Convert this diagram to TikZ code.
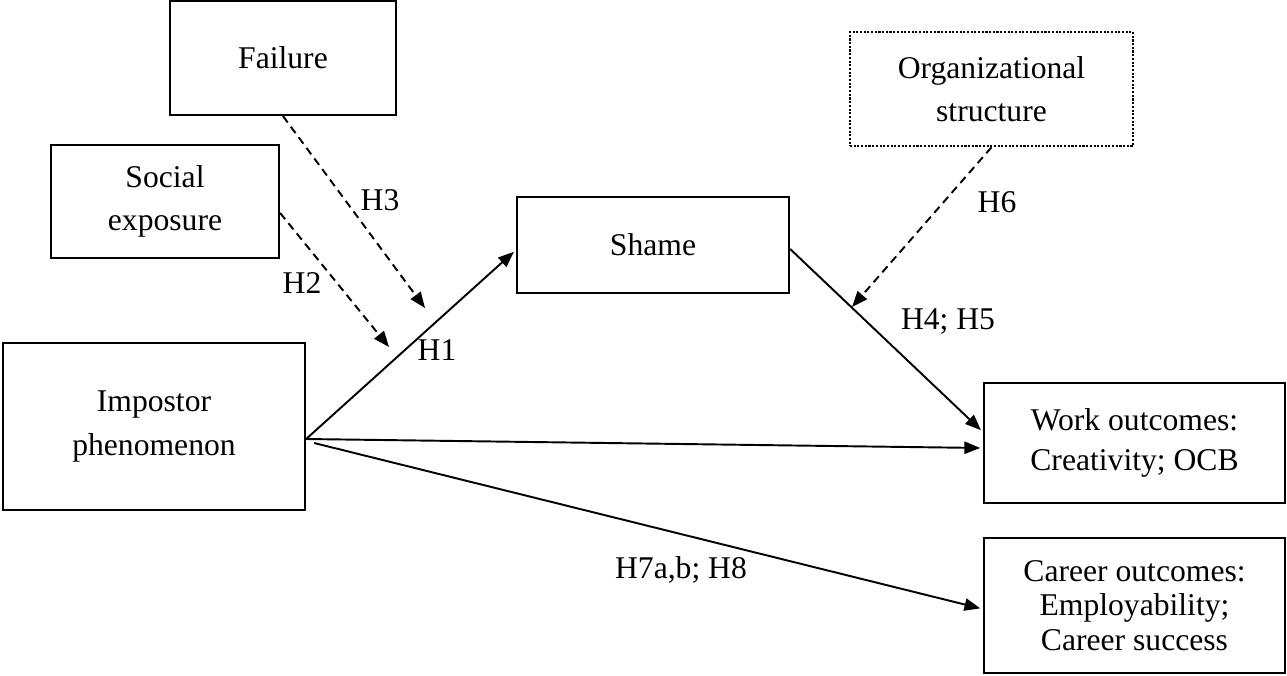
\documentclass[tikz,border=0pt]{standalone}
\usepackage{fontspec}
\setmainfont{Liberation Serif}
\usetikzlibrary{arrows.meta}

\tikzstyle{box}=[rectangle,draw,line width=1.3pt,align=center,inner sep=0pt,font=\fontsize{18}{24.5}\selectfont]
\tikzstyle{modbox}=[box,line width=1.4pt,dash pattern=on 1.2pt off 0.9pt]
\tikzstyle{hyp}=[inner sep=0pt,font=\fontsize{18}{24}\selectfont]
\tikzstyle{link} = [draw,line width=1.1pt,shorten >=1.5pt]
\tikzstyle{modlink} = [draw,line width=1.1pt,dash pattern=on 4.5pt off 3pt]

\begin{document}
\begin{tikzpicture}[->, >={Triangle[length=9pt,width=7pt]}]
			\useasboundingbox (0,0) rectangle (25.74,-13.5);
			\node [box,minimum width=4.52cm,minimum height=2.28cm] (failure) at (5.66,-1.16) {Failure};
			\node [box,minimum width=4.56cm,minimum height=2.26cm] (social)  at (3.30,-4.03) {Social\\exposure};
			\node [box,minimum width=6.04cm,minimum height=3.34cm] (imp)     at (3.08,-8.53) {Impostor\\phenomenon};
			\node [box,minimum width=5.44cm,minimum height=1.92cm] (shame)   at (13.06,-4.90) {Shame};
			\node [modbox,minimum width=5.66cm,minimum height=2.28cm] (org) at (19.83,-1.78) {Organizational\\structure};
			\node [box,minimum width=6.02cm,minimum height=2.40cm,font=\fontsize{18}{22.5}\selectfont] (work) at (22.69,-8.86) {Work outcomes:\\Creativity; OCB};
			\node [box,minimum width=6.02cm,minimum height=2.70cm,font=\fontsize{18}{19.5}\selectfont] (career) at (22.69,-12.11) {Career outcomes:\\Employability;\\Career success};

			\coordinate (m2) at (7.78,-6.94);
			\coordinate (m3) at (8.50,-6.16);
			\coordinate (m6) at (17.04,-6.14);

			\node [hyp] (h1) at (8.74,-7.00) {H1};
			\node [hyp] (h2) at (6.04,-5.66) {H2};
			\node [hyp] (h3) at (7.60,-4.00) {H3};
			\node [hyp] (h45) at (18.96,-6.44) {H4; H5};
			\node [hyp] (h6) at (19.94,-4.04) {H6};
			\node [hyp] (h78) at (13.62,-11.40) {H7a,b; H8};

			\draw [link] ([yshift=-0.25cm]imp.east) -- ([yshift=-0.10cm]shame.west);
			\draw [link] ([yshift=-0.25cm]imp.east) -- ([yshift=-0.10cm]work.west);
			\draw [link] ([xshift=0.16cm,yshift=-0.33cm]imp.east) -- ([yshift=-0.07cm]career.west);
			\draw [link] ([yshift=-0.08cm]shame.east) -- ([yshift=0.22cm]work.west);

			\draw [modlink] (failure.south) -- (m3);
			\draw [modlink] ([yshift=-0.23cm]social.east) -- (m2);
			\draw [modlink] (org.south) -- (m6);
	\end{tikzpicture}
\end{document}
